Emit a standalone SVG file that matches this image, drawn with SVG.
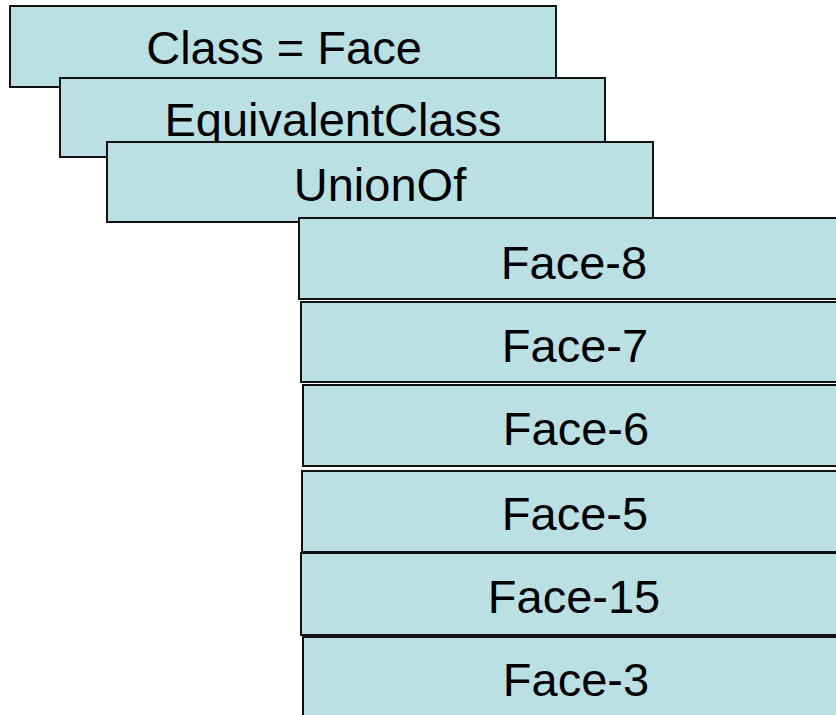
<svg xmlns="http://www.w3.org/2000/svg" width="836" height="715" viewBox="0 0 836 715">
  <style>
    .box { fill: #bbe0e3; stroke: #111; stroke-width: 2; }
    .lbl { font-family: "Liberation Sans", Arial, sans-serif; font-size: 47px; fill: #000; text-anchor: middle; }
  </style>
  <rect width="836" height="715" fill="#fff"/>
  <!-- class definition header, stacked -->
  <g id="class-face">
    <rect class="box" x="10" y="6" width="546" height="81"/>
    <text class="lbl" x="284" y="64">Class = Face</text>
  </g>
  <g id="equivalent-class">
    <rect class="box" x="60" y="78" width="545" height="79"/>
    <text class="lbl" x="333" y="136">EquivalentClass</text>
  </g>
  <g id="union-of">
    <rect class="box" x="107" y="142" width="546" height="80"/>
    <text class="lbl" x="380" y="201">UnionOf</text>
  </g>
  <!-- union members -->
  <g id="face-8">
    <rect class="box" x="299" y="218" width="551" height="81"/>
    <text class="lbl" x="574" y="279">Face-8</text>
  </g>
  <g id="face-7">
    <rect class="box" x="301" y="302" width="549" height="80"/>
    <text class="lbl" x="575" y="362">Face-7</text>
  </g>
  <g id="face-6">
    <rect class="box" x="303" y="385" width="547" height="81"/>
    <text class="lbl" x="576" y="445">Face-6</text>
  </g>
  <g id="face-5">
    <rect class="box" x="302" y="471" width="548" height="81"/>
    <text class="lbl" x="575" y="530">Face-5</text>
  </g>
  <g id="face-15">
    <rect class="box" x="301" y="553" width="549" height="82"/>
    <text class="lbl" x="574" y="613">Face-15</text>
  </g>
  <g id="face-3">
    <rect class="box" x="303" y="637" width="547" height="82"/>
    <text class="lbl" x="576" y="696">Face-3</text>
  </g>
  <g id="connectors"/>
</svg>
